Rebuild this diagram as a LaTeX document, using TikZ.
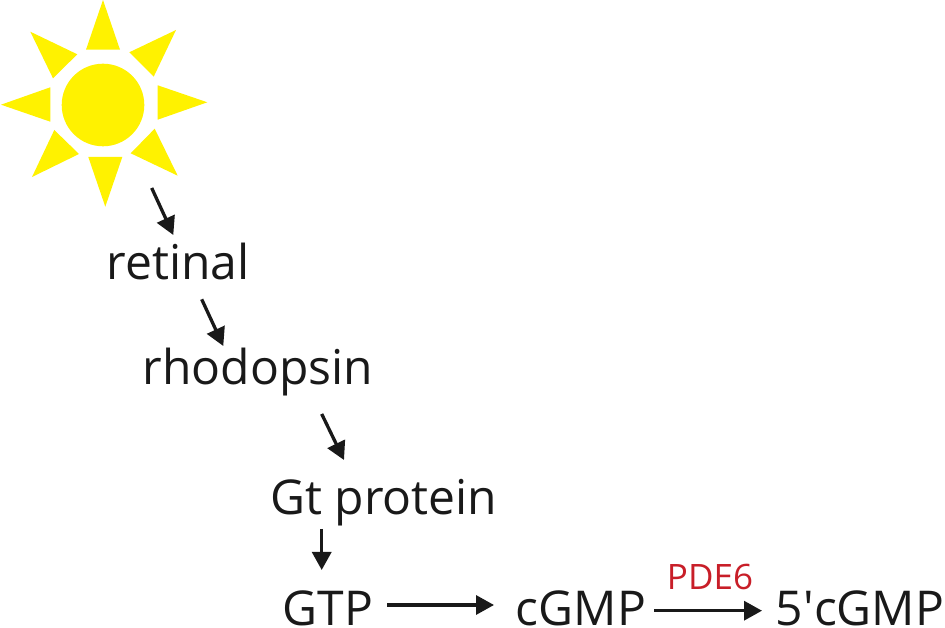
\documentclass[tikz,border=0pt]{standalone}
\usepackage{fontspec}
\setmainfont{Open Sans}
\usepackage{tikz}
\usetikzlibrary{arrows.meta}

\definecolor{sunyellow}{RGB}{255,242,0}
\definecolor{pdered}{RGB}{200,30,40}
\tikzset{
  label_node/.style={anchor=base,inner sep=0pt,font=\fontsize{48bp}{50bp}\selectfont,text=black!90},
  enzyme_node/.style={anchor=base,inner sep=0pt,font=\fontsize{35bp}{40bp}\selectfont,text=pdered},
  step_line/.style={black!90,line width=3.3bp,-{Triangle[length=18bp,width=19bp]}},
}

\begin{document}
\begin{tikzpicture}[>=latex,line join=bevel,]
\useasboundingbox (0bp,0bp) rectangle (945bp,628bp);
%%
\foreach \ax/\ay/\bx/\by/\cx/\cy in {103/628/86/578.3/120/578.3, 176/598/129.3/575.7/153.7/551.3, 207.3/525.7/157.7/542.7/157.7/508.3, 177.7/452.3/130.7/474.7/154.7/499.3, 105.3/421.3/88.3/471/122.3/471, 32/451/79/474/54.3/498, 1/523.3/50.3/540.7/50.3/506.3, 30.3/596.3/77.3/573.7/53/549.7}
  \fill [sunyellow] (\ax bp,\ay bp) -- (\bx bp,\by bp) -- (\cx bp,\cy bp) -- cycle;
\node (node_sun) at (103bp,523bp) [circle,fill=sunyellow,inner sep=0pt,minimum size=82.6bp] {};
\node (node_retinal) at (178bp,348bp) [label_node] {retinal};
\node (node_rhodopsin) at (258bp,243.5bp) [label_node] {rhodopsin};
\node (node_gt) at (384bp,113bp) [label_node] {Gt protein};
\node (node_gtp) at (328bp,3bp) [label_node] {GTP};
\node (node_cgmp) at (581bp,3bp) [label_node] {cGMP};
\node (node_5cgmp) at (860bp,3bp) [label_node] {5\textquotesingle cGMP};
\node (node_pde) at (710bp,39bp) [enzyme_node] {PDE6};
\draw [step_line] ([shift={(48.7bp,-83bp)}]node_sun.center) -- ([shift={(-4.7bp,45bp)}]node_retinal.base);
\draw [step_line] ([shift={(23.7bp,-19.3bp)}]node_retinal.base) -- ([shift={(-34.7bp,38.5bp)}]node_rhodopsin.base);
\draw [step_line] ([shift={(63.7bp,-29.5bp)}]node_rhodopsin.base) -- ([shift={(-40bp,55bp)}]node_gt.base);
\draw [step_line] ([shift={(-62.3bp,-14bp)}]node_gt.base) -- ([shift={(-6.3bp,55bp)}]node_gtp.base);
\draw [step_line] ([shift={(59bp,20bp)}]node_gtp.base) -- ([shift={(-87bp,20bp)}]node_cgmp.base);
\draw [step_line] ([shift={(73bp,14.3bp)}]node_cgmp.base) -- ([shift={(-98bp,14.3bp)}]node_5cgmp.base);
%
\end{tikzpicture}
\end{document}
